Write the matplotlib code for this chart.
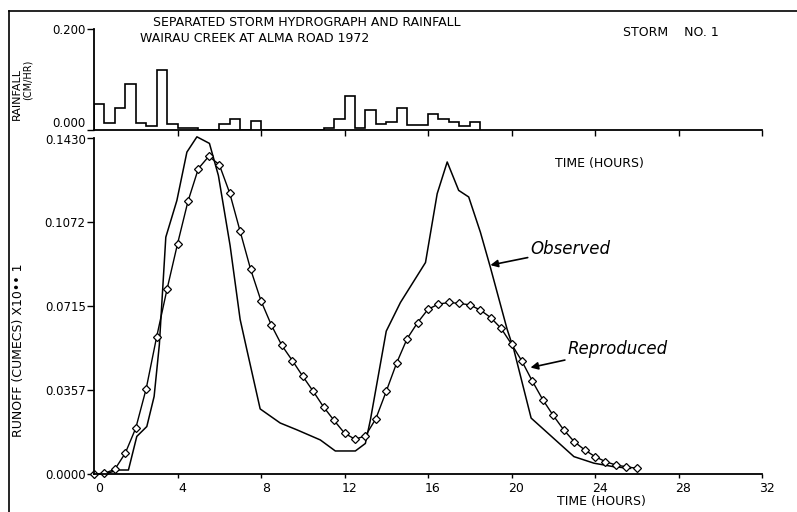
import numpy as np
import matplotlib.pyplot as plt
import matplotlib.transforms as mtransforms

# rainfall (cm/hr) in half hour steps from t=0
rain_edges = np.arange(0, 19.0, 0.5)
rain = [0.051, 0.013, 0.043, 0.091, 0.013, 0.008, 0.119, 0.012,
        0.004, 0.004, 0.0, 0.0, 0.012, 0.022, 0.0, 0.018,
        0.0, 0.0, 0.0, 0.0, 0.0, 0.0, 0.004, 0.022,
        0.067, 0.004, 0.040, 0.012, 0.015, 0.044, 0.010, 0.010,
        0.031, 0.022, 0.016, 0.007, 0.015]

# observed hydrograph
obs_t = [0, 0.5, 1.17, 1.65, 2.05, 2.53, 2.88, 3.13, 3.44, 3.97, 4.45, 4.93,
         5.53, 5.96, 6.52, 7.0, 7.32, 7.96, 8.92, 9.72, 10.84, 11.56, 12.52,
         13.0, 13.24, 14.0, 14.68, 15.88, 16.44, 16.92, 17.47, 17.95, 18.51,
         18.99, 19.79, 20.11, 20.94, 22.99, 23.95, 24.9, 25.7]
obs_q = [0.0, 0.0, 0.0017, 0.0017, 0.016, 0.0202, 0.033, 0.055, 0.1008, 0.1164,
         0.137, 0.1435, 0.1407, 0.127, 0.0972, 0.0658, 0.053, 0.0277, 0.0217,
         0.0188, 0.0145, 0.0098, 0.0098, 0.013, 0.023, 0.0608, 0.073, 0.090,
         0.1193, 0.1328, 0.1207, 0.1179, 0.1029, 0.0879, 0.0616, 0.053, 0.0238,
         0.0074, 0.0046, 0.0031, 0.0024]

# reproduced hydrograph, every half hour
rep_t = np.arange(0, 26.5, 0.5)
rep_q = [0.0, 0.0003, 0.002, 0.0089, 0.0195, 0.0363, 0.0583, 0.0787, 0.0979,
         0.116, 0.130, 0.1352, 0.1317, 0.1196, 0.1033, 0.0872, 0.0737, 0.0633,
         0.0547, 0.0483, 0.0416, 0.0352, 0.0285, 0.0228, 0.0174, 0.0148, 0.0162,
         0.0235, 0.0352, 0.0473, 0.0576, 0.0644, 0.0701, 0.0723, 0.073, 0.0726,
         0.072, 0.0698, 0.0666, 0.0620, 0.0553, 0.0480, 0.0395, 0.0316, 0.0249,
         0.0188, 0.0138, 0.0103, 0.0074, 0.0053, 0.0038, 0.0031, 0.0024]

x_ticks = [0, 4, 8, 12, 16, 20, 24, 28, 32]
q_ticks = [0.0, 0.0357, 0.0715, 0.1072, 0.1430]
q_labels = ["0.0000", "0.0357", "0.0715", "0.1072", "0.1430"]
r_ticks = [0.0, 0.2]
r_labels = ["0.000", "0.200"]

plt.rcParams['font.family'] = 'DejaVu Sans'
W, H = 797, 512
fig = plt.figure(figsize=(W / 100, H / 100), dpi=100)


def fx(px):
    return px / W


def fy(py):
    return 1 - py / H


# main runoff axes
ax = fig.add_axes([fx(94), fy(474), fx(762) - fx(94), fy(138) - fy(474)])
ax.plot(obs_t, obs_q, color='k', lw=1.1, clip_on=False)
ax.plot(rep_t, rep_q, color='k', lw=1.0, marker='D', ms=4.5, mfc='white',
        mec='k', mew=0.9, clip_on=False)
ax.set_xlim(0, 32)
ax.set_ylim(0, 0.143)
for s in ['top', 'right']:
    ax.spines[s].set_visible(False)
ax.spines['left'].set_linewidth(1.3)
ax.spines['bottom'].set_linewidth(1.3)
ax.set_xticks(x_ticks)
ax.set_yticks(q_ticks)
ax.set_yticklabels(q_labels)
ax.tick_params(axis='x', direction='out', length=3, width=1, pad=3, labelsize=9)
ax.tick_params(axis='y', direction='out', length=5, width=1, pad=1, labelsize=8.5)
off = mtransforms.ScaledTranslation(5 / 100, 0, fig.dpi_scale_trans)
for lab in ax.get_xticklabels():
    lab.set_transform(lab.get_transform() + off)
ax.get_yticklabels()[-1].set_va('top')
ax.get_yticklabels()[-1].set_transform(
    ax.get_yticklabels()[-1].get_transform()
    + mtransforms.ScaledTranslation(0, 4 / 100, fig.dpi_scale_trans))

ax.text(24.2, 0.1321, "TIME (HOURS)", fontsize=9, ha='center', va='center')
ax.text(0.759, -0.083, "TIME (HOURS)", fontsize=9, ha='center', va='center',
        transform=ax.transAxes)

arrow = dict(arrowstyle='-|>', color='k', lw=1.2, mutation_scale=11,
             shrinkA=0, shrinkB=0)
ax.annotate("Observed", xy=(18.99, 0.0889), xytext=(20.91, 0.0958),
            fontsize=12, style='italic', ha='left', va='center',
            arrowprops=arrow)
ax.annotate("Reproduced", xy=(20.91, 0.0453), xytext=(22.69, 0.0534),
            fontsize=12, style='italic', ha='left', va='center',
            arrowprops=arrow)

# rainfall axes
axr = fig.add_axes([fx(94), fy(130), fx(762) - fx(94), fy(29) - fy(130)])
axr.stairs(rain, rain_edges, color='k', lw=1.2)
axr.set_xlim(0, 32)
axr.set_ylim(0, 0.2)
for s in ['top', 'right']:
    axr.spines[s].set_visible(False)
axr.spines['left'].set_linewidth(1.3)
axr.spines['bottom'].set_linewidth(1.3)
axr.set_xticks(x_ticks[1:])
axr.set_xticklabels([])
axr.set_yticks(r_ticks)
axr.set_yticklabels(r_labels)
axr.tick_params(axis='x', direction='out', length=4, width=1)
axr.tick_params(axis='y', direction='out', length=5, width=1, pad=1, labelsize=8.5)
axr.get_yticklabels()[0].set_va('bottom')

# titles and labels
fig.text(fx(153), fy(22), "SEPARATED STORM HYDROGRAPH AND RAINFALL", fontsize=9,
         ha='left', va='center')
fig.text(fx(140), fy(38), "WAIRAU CREEK AT ALMA ROAD 1972", fontsize=9,
         ha='left', va='center')
fig.text(fx(623), fy(33), "STORM    NO. 1", fontsize=9, ha='left', va='center')
fig.text(fx(19), fy(350), "RUNOFF (CUMECS) X10•• 1", fontsize=9, rotation=90,
         ha='center', va='center')
fig.text(fx(17), fy(94), "RAINFALL", fontsize=8, rotation=90,
         ha='center', va='center')
fig.text(fx(28), fy(80), "(CM/HR)", fontsize=7, rotation=90,
         ha='center', va='center')

# plotter frame
fig.add_artist(plt.Line2D([fx(9), 1], [fy(11), fy(11)], color='k', lw=1.2))
fig.add_artist(plt.Line2D([fx(9), fx(9)], [fy(11), 0], color='k', lw=1.2))

fig.savefig("out.png", dpi=100)
